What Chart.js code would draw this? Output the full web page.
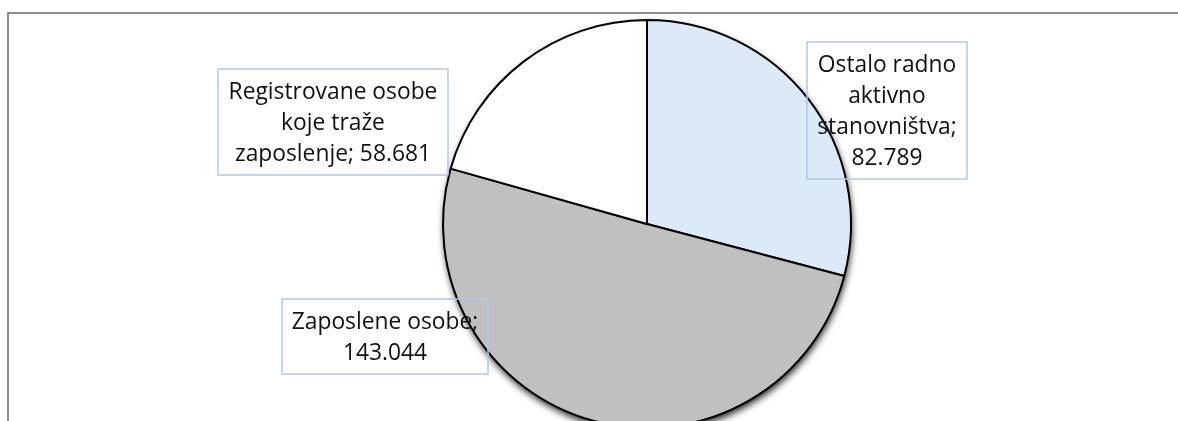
<!DOCTYPE html>
<html>
<head>
<meta charset="utf-8">
<script src="https://cdn.jsdelivr.net/npm/chart.js@4/dist/chart.umd.min.js"></script>
<style>
  html, body { margin: 0; padding: 0; background: #fff; overflow: hidden; }
  #frame { position: absolute; left: 7px; top: 12px; width: 1300px; height: 600px;
           border-left: 2px solid #8c8c8c; border-top: 2px solid #8c8c8c; }
  #wrap { position: absolute; left: 0; top: 0; width: 1178px; height: 440px; }
</style>
</head>
<body>
<div id="frame"></div>
<div id="wrap"><canvas id="pieChart"></canvas></div>
<script>
'use strict';

// ── Data ─────────────────────────────────────────────
const categories = [
    'Ostalo radno aktivno stanovništva',
    'Zaposlene osobe',
    'Registrovane osobe koje traže zaposlenje'
];
const values = [82789, 143044, 58681];
const sliceColors = ['#dce9f7', '#c0c0c0', '#ffffff'];

const fmt = v => String(v).replace(/\B(?=(\d{3})+(?!\d))/g, '.');

// label boxes (position / size only), same order as categories
const labelBoxes = [
    { cx: 887, top: 42,  w: 160, wrap: 150 },
    { cx: 385, top: 299, w: 206, wrap: 195 },
    { cx: 333, top: 69,  w: 230, wrap: 215 },
];
const LABEL_FONT = '22.8px "Open Sans", sans-serif';
const LINE_H = 31;

function wrapText(ctx, text, maxW) {
    const words = text.split(' ');
    const lines = [];
    let cur = '';
    words.forEach(w => {
        const test = cur ? cur + ' ' + w : w;
        if (cur && ctx.measureText(test).width > maxW) {
            lines.push(cur);
            cur = w;
        } else cur = test;
    });
    if (cur) lines.push(cur);
    return lines;
}

// ── Plugins ──────────────────────────────────────────
const pieShadow = {
    id: 'pieShadow',
    beforeDatasetsDraw(chart) {
        const arc = chart.getDatasetMeta(0).data[0];
        if (!arc) return;
        const { ctx } = chart;
        ctx.save();
        ctx.shadowColor = 'rgba(0,0,0,0.85)';
        ctx.shadowBlur = 7;
        ctx.shadowOffsetX = 1;
        ctx.shadowOffsetY = 4;
        ctx.beginPath();
        ctx.arc(arc.x, arc.y, arc.outerRadius, 0, Math.PI * 2);
        ctx.fillStyle = '#c0c0c0';
        ctx.fill();
        ctx.restore();
    }
};

const dataLabels = {
    id: 'dataLabels',
    afterDatasetsDraw(chart) {
        const { ctx } = chart;
        const ds = chart.data.datasets[0];
        ctx.save();
        ctx.font = LABEL_FONT;
        chart.data.labels.forEach((lbl, i) => {
            const box = labelBoxes[i];
            const lines = wrapText(ctx, lbl + '; ' + fmt(ds.data[i]), box.wrap);
            const h = lines.length * LINE_H + 13;
            ctx.strokeStyle = '#b4c7e7';
            ctx.lineWidth = 1.5;
            ctx.strokeRect(box.cx - box.w / 2, box.top, box.w, h);
            ctx.fillStyle = '#111';
            ctx.textAlign = 'center';
            ctx.textBaseline = 'middle';
            lines.forEach((ln, k) => {
                ctx.fillText(ln, box.cx, box.top + 8 + LINE_H * (k + 0.5));
            });
        });
        ctx.restore();
    }
};

// ── Chart ────────────────────────────────────────────
new Chart(document.getElementById('pieChart').getContext('2d'), {
    type: 'pie',
    data: {
        labels: categories,
        datasets: [{
            data: values,
            backgroundColor: sliceColors,
            borderColor: '#000',
            borderWidth: 2,
        }]
    },
    options: {
        responsive: true,
        maintainAspectRatio: false,
        animation: false,
        radius: 204,
        layout: { padding: { left: 116, right: 0, top: 20, bottom: 12 } },
        plugins: {
            legend: { display: false },
            tooltip: { enabled: false },
        }
    },
    plugins: [pieShadow, dataLabels]
});
</script>
</body>
</html>
